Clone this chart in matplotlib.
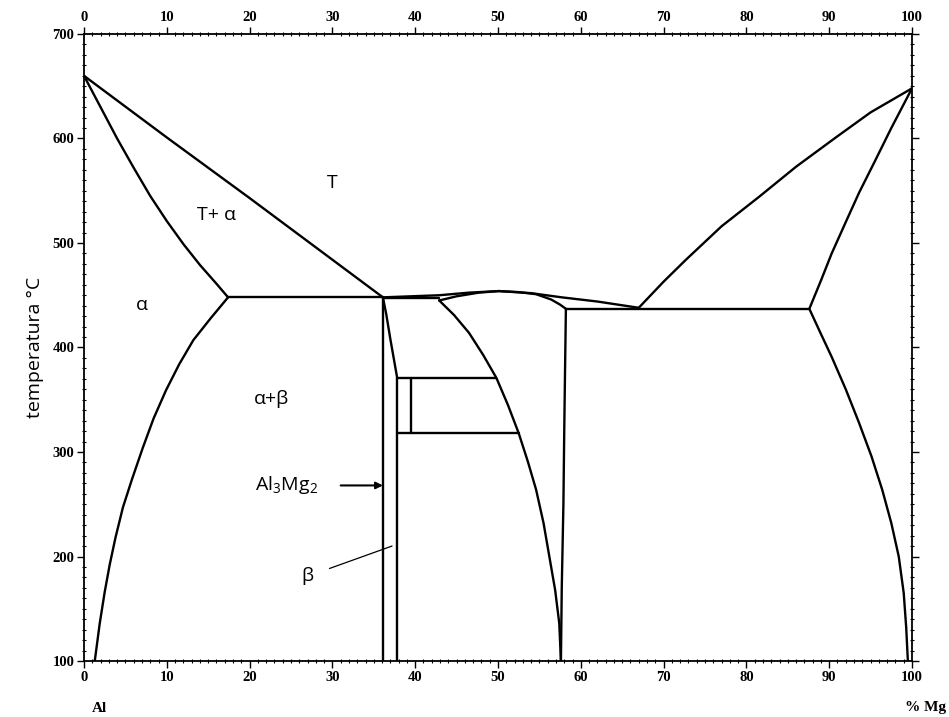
import matplotlib
matplotlib.use("Agg")
import matplotlib.pyplot as plt
from matplotlib.ticker import MultipleLocator

############################
# Data (wt% Mg, temperature in °C)
############################

# liquid / Al side
al_liquidus_x = [0, 10, 20, 30, 36.1]
al_liquidus_t = [660, 601, 543, 484, 448]

al_solidus_x = [0, 2, 4, 6, 8, 10, 12, 14, 16, 17.4]
al_solidus_t = [660, 630, 600, 572, 545, 521, 499, 479, 461, 448]

al_solvus_x = [17.4, 15.3, 13.2, 11.5, 9.9, 8.4, 7.1, 5.8, 4.7, 3.8, 3.1, 2.5, 1.9, 1.3]
al_solvus_t = [448, 428, 407, 384, 359, 332, 304, 274, 247, 218, 192, 166, 136, 100]

eutectic_al_x = [17.4, 36.1]
eutectic_al_t = [448, 448]

# beta (Al3Mg2)
beta_left_x = [36.1, 36.1]
beta_left_t = [448, 100]

beta_right_x = [36.1, 36.5, 37.0, 37.4, 37.8, 37.8]
beta_right_t = [448, 432, 408, 390, 372, 100]

beta_gamma_eut_x = [36.1, 42.9]
beta_gamma_eut_t = [447, 447]

# epsilon box
eps_upper_x = [37.8, 49.8]
eps_upper_t = [371, 371]
eps_lower_x = [37.8, 52.5]
eps_lower_t = [318, 318]
eps_inner_x = [39.5, 39.5]
eps_inner_t = [371, 318]

# gamma
gamma_left_x = [42.9, 44.7, 46.5, 48.2, 49.8, 51.2, 52.5, 53.6, 54.6, 55.5, 56.2, 56.9, 57.4, 57.6]
gamma_left_t = [445, 431, 414, 393, 371, 345, 318, 291, 264, 232, 200, 168, 136, 100]

gamma_right_x = [58.2, 58.1, 58.0, 57.9, 57.7, 57.6]
gamma_right_t = [437, 380, 320, 250, 170, 100]

dome_liquidus_x = [36.1, 39.5, 42.9, 46.5, 50.1, 54.0, 57.7, 62.0, 67.0]
dome_liquidus_t = [448, 449, 450, 452.5, 454, 452, 448, 444, 438]

gamma_solidus_x = [42.9, 45.0, 47.7, 50.1, 52.5, 54.6, 56.4, 57.5, 58.2]
gamma_solidus_t = [445, 449, 452.5, 454, 453, 451, 446, 441, 437]

# Mg side
eutectic_mg_x = [58.2, 87.6]
eutectic_mg_t = [437, 437]

mg_liquidus_x = [67.0, 70.0, 72.7, 77.0, 81.5, 86.0, 90.8, 95.0, 100]
mg_liquidus_t = [438, 463, 484, 516, 544, 573, 601, 625, 648]

mg_solidus_x = [87.6, 89.0, 90.3, 92.0, 93.6, 95.5, 97.5, 100]
mg_solidus_t = [437, 464, 490, 520, 548, 578, 610, 648]

mg_solvus_x = [87.6, 89.0, 90.3, 92.0, 93.6, 95.1, 96.4, 97.5, 98.4, 99.0, 99.3, 99.5]
mg_solvus_t = [437, 413, 391, 360, 328, 296, 264, 232, 200, 165, 132, 100]

boundaries = [
    (al_liquidus_x, al_liquidus_t),
    (al_solidus_x, al_solidus_t),
    (al_solvus_x, al_solvus_t),
    (eutectic_al_x, eutectic_al_t),
    (beta_left_x, beta_left_t),
    (beta_right_x, beta_right_t),
    (beta_gamma_eut_x, beta_gamma_eut_t),
    (eps_upper_x, eps_upper_t),
    (eps_lower_x, eps_lower_t),
    (eps_inner_x, eps_inner_t),
    (gamma_left_x, gamma_left_t),
    (gamma_right_x, gamma_right_t),
    (dome_liquidus_x, dome_liquidus_t),
    (gamma_solidus_x, gamma_solidus_t),
    (eutectic_mg_x, eutectic_mg_t),
    (mg_liquidus_x, mg_liquidus_t),
    (mg_solidus_x, mg_solidus_t),
    (mg_solvus_x, mg_solvus_t),
]

# region labels
region_labels = ["T", "T+ α", "α", "α+β"]
region_x = [30.0, 16.0, 7.0, 22.7]
region_t = [557, 527, 441, 351]

x_ticks = list(range(0, 101, 10))
y_ticks = list(range(100, 701, 100))

############################
# Plot
############################

LABEL_FONT = ["Open Sans", "DejaVu Sans"]
TICK_FONT = "Liberation Serif"

plt.rcParams["mathtext.default"] = "regular"

fig = plt.figure(figsize=(9.49, 7.17), dpi=100)
ax = fig.add_axes([84 / 949, 1 - 661 / 717, 828 / 949, 627 / 717])

for xs, ts in boundaries:
    ax.plot(xs, ts, color="black", linewidth=1.7,
            solid_joinstyle="round", solid_capstyle="round")

ax.set_xlim(0, 100)
ax.set_ylim(100, 700)

ax.set_xticks(x_ticks)
ax.set_yticks(y_ticks)
ax.xaxis.set_minor_locator(MultipleLocator(1))
ax.yaxis.set_minor_locator(MultipleLocator(10))

ax.tick_params(which="major", direction="out", length=5, width=1.0,
               top=True, right=True, labeltop=True, labelright=False,
               labelsize=10.5, pad=2)
ax.tick_params(which="minor", direction="inout", length=3, width=0.8,
               top=True, right=True)

for lab in ax.get_xticklabels() + ax.get_yticklabels():
    lab.set_fontfamily(TICK_FONT)
    lab.set_fontweight("bold")

for spine in ax.spines.values():
    spine.set_linewidth(1.3)

ax.set_ylabel("temperatura °C", family=LABEL_FONT, fontsize=14, labelpad=6)

for txt, x, t in zip(region_labels, region_x, region_t):
    ax.text(x, t, txt, family=LABEL_FONT, fontsize=14, ha="center", va="center")

# Al3Mg2 with arrow to the beta line
ax.text(24.4, 268, "Al$_3$Mg$_2$", family=LABEL_FONT, fontsize=14,
        ha="center", va="center")
ax.annotate("", xy=(36.1, 268), xytext=(31.0, 268),
            arrowprops=dict(arrowstyle="-|>", color="black", lw=1.5,
                            shrinkA=0, shrinkB=0, mutation_scale=10))

# beta leader line
ax.annotate("β", xy=(37.2, 210), xytext=(27.0, 181),
            family=LABEL_FONT, fontsize=14, ha="center", va="center",
            arrowprops=dict(arrowstyle="-", color="black", lw=0.9,
                            shrinkA=10, shrinkB=0))

fig.text(92 / 949, 1 - 708 / 717, "Al", family=TICK_FONT, fontweight="bold",
         fontsize=11, ha="left", va="center")
fig.text(946 / 949, 1 - 708 / 717, "% Mg", family=TICK_FONT, fontweight="bold",
         fontsize=11, ha="right", va="center")

fig.savefig("out.png", dpi=100, facecolor="white")
